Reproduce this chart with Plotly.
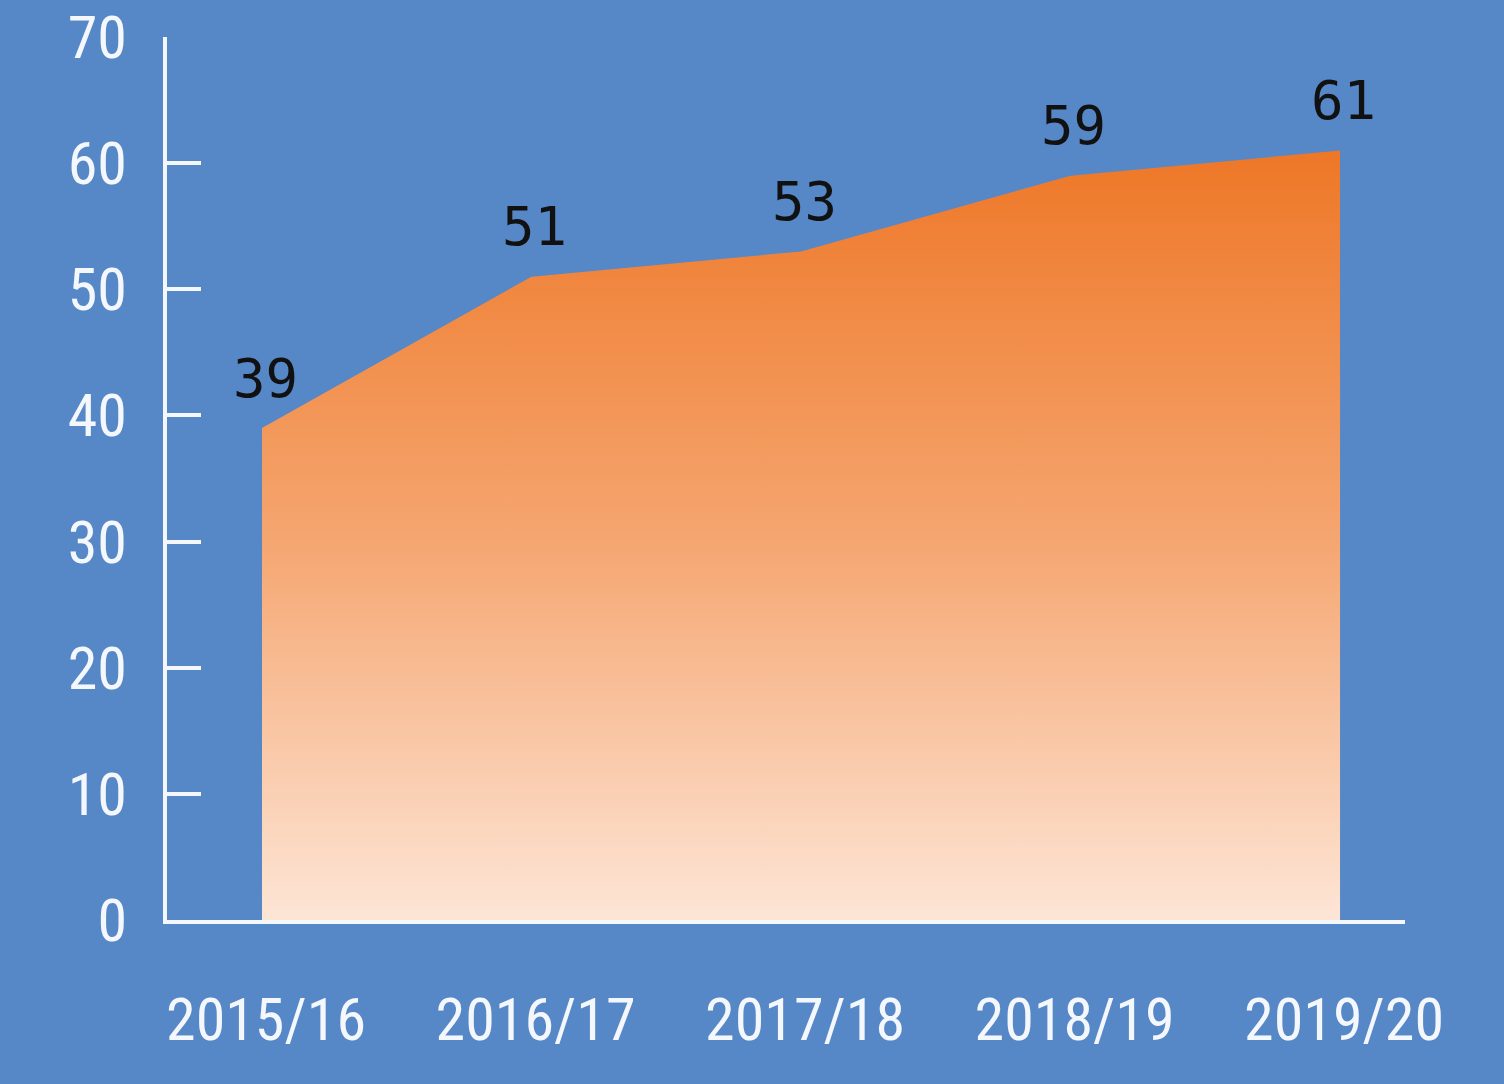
import plotly.graph_objects as go

categories = ["2015/16", "2016/17", "2017/18", "2018/19", "2019/20"]
values = [39, 51, 53, 59, 61]
y_ticks = [0, 10, 20, 30, 40, 50, 60, 70]

BG = "#5687C6"
WHITE = "#F4F7FB"
LABEL_FONT = "Liberation Sans Narrow, Roboto Condensed, Roboto, sans-serif"

fig = go.Figure()
fig.add_trace(go.Scatter(
    x=categories, y=values,
    mode="lines",
    line=dict(width=0, color="#EE7828"),
    fill="tozeroy",
    fillgradient=dict(
        type="vertical",
        start=0, stop=max(values),
        colorscale=[[0, "#FDE5D6"], [0.5, "#F5A56F"], [1, "#EE7727"]],
    ),
    hoverinfo="skip",
    showlegend=False,
))

for c, v in zip(categories, values):
    fig.add_annotation(
        x=c, y=v, text=str(v), showarrow=False,
        yshift=50, xshift=3,
        font=dict(family="DejaVu Sans Mono", size=54, color="#111111"),
    )

fig.update_layout(
    width=1504, height=1084,
    paper_bgcolor=BG, plot_bgcolor=BG,
    margin=dict(l=167, r=99, t=37, b=164, autoexpand=False),
    showlegend=False,
)
fig.update_xaxes(
    type="category",
    range=[-0.3525, 4.241],
    showgrid=False, zeroline=False,
    showline=True, linecolor=WHITE, linewidth=4,
    ticks="",
    tickfont=dict(family=LABEL_FONT, size=60, color=WHITE),
    ticklabelstandoff=44,
    ticklabelshift=4,
    automargin=False,
)
fig.update_yaxes(
    range=[0, 70],
    tickvals=y_ticks,
    showgrid=False, zeroline=False,
    showline=True, linecolor=WHITE, linewidth=4,
    ticks="inside", ticklen=34, tickwidth=4, tickcolor=WHITE,
    tickfont=dict(family=LABEL_FONT, size=60, color=WHITE),
    ticklabelstandoff=24,
    automargin=False,
)

fig.write_html("out.html")
